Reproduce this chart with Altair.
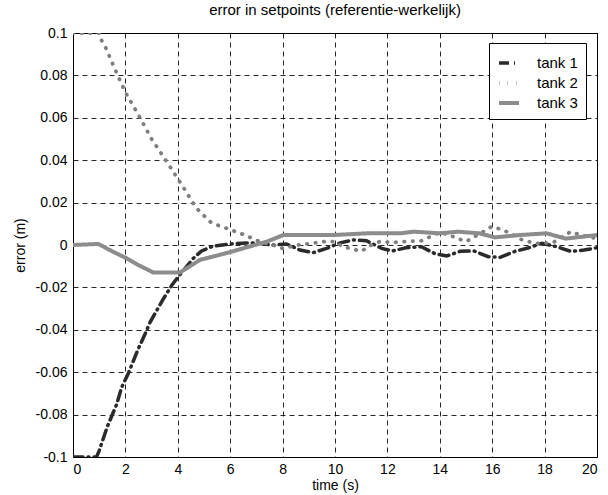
import altair as alt
import pandas as pd

tank1_t = [0, 0.9, 1.0, 1.3, 1.67, 1.86, 2.11, 2.49, 2.75, 2.94, 3.19, 3.47, 3.77, 4.08, 4.59, 4.91,
           5.35, 6.0, 6.63, 7.1, 7.63, 8.15, 8.66, 9.17, 9.68, 10.2, 10.7, 11.2, 11.78, 12.2, 12.7,
           13.3, 13.8, 14.26, 14.77, 15.3, 15.85, 16.3, 16.87, 17.4, 17.9, 18.46, 19.0, 19.5, 20]
tank1_v = [-0.1, -0.1, -0.097, -0.086, -0.075, -0.067, -0.0606, -0.049, -0.042, -0.0365, -0.031,
           -0.025, -0.019, -0.014, -0.0063, -0.0028, -0.0005, 0.0005, 0.001, 0.0008, 0.0, 0.0005,
           -0.0024, -0.0036, -0.0016, 0.001, 0.0024, 0.002, -0.0016, -0.0028, -0.0013, -0.0008,
           -0.004, -0.0052, -0.003, -0.0028, -0.0055, -0.0058, -0.003, -0.0013, 0.0008, -0.0008,
           -0.003, -0.0024, -0.0013]

tank2_t = [0, 1.0, 1.07, 1.25, 1.6, 2.0, 2.56, 3.0, 3.54, 4.12, 4.7, 5.23, 5.57, 5.95, 6.27, 6.63,
           6.95, 7.3, 7.63, 8.0, 8.6, 9.1, 9.6, 10.0, 10.3, 10.7, 11.0, 11.3, 11.7, 12.2, 12.67,
           13.3, 14.0, 14.5, 15.0, 15.66, 15.98, 16.3, 16.65, 17.2, 17.7, 18.3, 19.0, 19.3, 20]
tank2_v = [0.1, 0.1, 0.097, 0.093, 0.083, 0.072, 0.06, 0.05, 0.04, 0.029, 0.0175, 0.011, 0.0091,
           0.0075, 0.006, 0.0044, 0.0024, 0.001, 0.0, -0.0016, 0.0, 0.0008, 0.0016, 0.0016, -0.0008,
           -0.002, -0.003, -0.0005, 0.0016, 0.0012, 0.0016, 0.002, 0.006, 0.004, 0.0016, 0.0063,
           0.0087, 0.0075, 0.0058, 0.002, 0.0008, 0.001, 0.0063, 0.005, 0.003]

tank3_t = [0, 0.97, 1.5, 2.0, 2.5, 3.07, 4.08, 4.85, 5.5, 6.1, 6.8, 7.4, 8.03, 9.0, 9.94, 11.2,
           12.5, 13.0, 14.0, 14.7, 15.5, 16.1, 17.06, 18.08, 18.8, 20]
tank3_v = [0.0, 0.0005, -0.003, -0.006, -0.0095, -0.013, -0.013, -0.007, -0.005, -0.003, -0.0005,
           0.0016, 0.0047, 0.0047, 0.0047, 0.0055, 0.0055, 0.0063, 0.0055, 0.0063, 0.0055, 0.0036,
           0.0047, 0.0055, 0.003, 0.0047]

names = ["tank 1", "tank 2", "tank 3"]
x_ticks = list(range(0, 21, 2))
y_ticks = [-0.1, -0.08, -0.06, -0.04, -0.02, 0, 0.02, 0.04, 0.06, 0.08, 0.1]

rows = []
for name, ts, vs in zip(names, [tank1_t, tank2_t, tank3_t], [tank1_v, tank2_v, tank3_v]):
    for i, (t, v) in enumerate(zip(ts, vs)):
        rows.append({"time": t, "error": v, "tank": name, "i": i})
df = pd.DataFrame(rows)

font = "Liberation Sans"

legend = alt.Legend(
    orient="none", legendX=416, legendY=10, title=None,
    strokeColor="black", fillColor="white", padding=8,
    symbolType="stroke", symbolSize=400, labelFontSize=15, labelFont=font,
    labelColor="black", rowPadding=-1, cornerRadius=0, labelOffset=16,
)

chart = alt.Chart(df).mark_line(strokeCap="round", clip=True).encode(
    x=alt.X("time:Q", scale=alt.Scale(domain=[0, 20], nice=False),
            axis=alt.Axis(values=x_ticks, format="d", title="time (s)")),
    y=alt.Y("error:Q", scale=alt.Scale(domain=[-0.1, 0.1], nice=False),
            axis=alt.Axis(values=y_ticks, labelExpr="'' + round(datum.value*100)/100",
                          title="error (m)", titlePadding=8)),
    color=alt.Color("tank:N", scale=alt.Scale(domain=names, range=["#2a2a2a", "#7e7e7e", "#8c8c8c"]),
                    legend=legend),
    strokeDash=alt.StrokeDash("tank:N", scale=alt.Scale(domain=names, range=[[10, 5, 1, 5], [0.5, 8], [1, 0]]),
                              legend=legend),
    strokeWidth=alt.StrokeWidth("tank:N", scale=alt.Scale(domain=names, range=[3.5, 4, 5]),
                                legend=legend),
    order="i:Q",
).properties(
    width=524, height=424,
    title=alt.TitleParams("error in setpoints (referentie-werkelijk)", fontSize=15, font=font,
                          fontWeight="normal", offset=8, color="black"),
    autosize=alt.AutoSizeParams(type="none"),
    padding={"left": 73, "top": 33, "right": 11, "bottom": 38},
).configure_view(
    stroke="black", strokeWidth=1
).configure_axis(
    grid=True, gridColor="black", gridDash=[5, 4], gridOpacity=0.85, gridWidth=1,
    domain=False, ticks=False, labelFont=font, labelFontSize=14, labelColor="black",
    titleFont=font, titleFontSize=14, titleFontWeight="normal", titleColor="black",
    labelPadding=6,
).configure_axisX(
    labelPadding=5, titlePadding=2,
)

chart.save("out.html", embed_options={"renderer": "svg", "actions": False})
